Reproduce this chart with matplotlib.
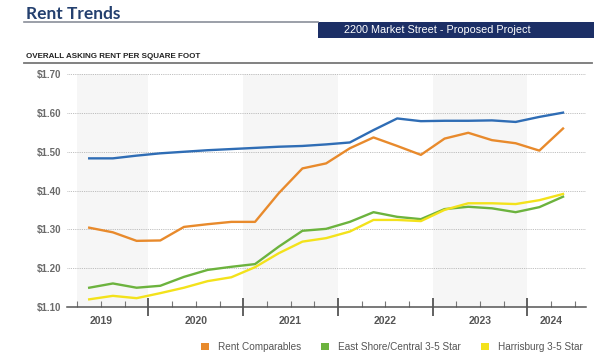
import numpy as np
import matplotlib
matplotlib.use("Agg")
import matplotlib.pyplot as plt
from matplotlib.patches import Patch, Rectangle
from matplotlib.lines import Line2D

plt.rcParams['font.family'] = ['Liberation Sans', 'DejaVu Sans']

# --------------------------
# Data (quarterly, Q2 2019 -> Q2 2024)
# --------------------------
quarters = ['2019Q2', '2019Q3', '2019Q4',
            '2020Q1', '2020Q2', '2020Q3', '2020Q4',
            '2021Q1', '2021Q2', '2021Q3', '2021Q4',
            '2022Q1', '2022Q2', '2022Q3', '2022Q4',
            '2023Q1', '2023Q2', '2023Q3', '2023Q4',
            '2024Q1', '2024Q2']

proposed = [1.483, 1.483, 1.490, 1.496, 1.500, 1.504, 1.507,
            1.510, 1.513, 1.515, 1.519, 1.524, 1.556, 1.586,
            1.579, 1.580, 1.580, 1.581, 1.577, 1.590, 1.601]
rent_comps = [1.304, 1.292, 1.270, 1.271, 1.306, 1.313, 1.319,
              1.319, 1.393, 1.457, 1.470, 1.509, 1.537, 1.515,
              1.492, 1.534, 1.549, 1.530, 1.522, 1.503, 1.560]
east_shore = [1.149, 1.160, 1.149, 1.154, 1.177, 1.195, 1.203,
              1.210, 1.255, 1.296, 1.301, 1.319, 1.344, 1.332,
              1.326, 1.352, 1.358, 1.354, 1.344, 1.357, 1.384]
harrisburg = [1.119, 1.128, 1.122, 1.135, 1.149, 1.166, 1.176,
              1.202, 1.238, 1.268, 1.277, 1.294, 1.324, 1.324,
              1.321, 1.350, 1.367, 1.367, 1.365, 1.375, 1.391]

years = ['2019', '2020', '2021', '2022', '2023', '2024']
yticks = [1.10, 1.20, 1.30, 1.40, 1.50, 1.60, 1.70]

# colours
c_blue = '#2f6db5'
c_orange = '#e88a2c'
c_green = '#6cb33e'
c_yellow = '#f3e21b'
c_navy = '#1c2f66'
c_grey_txt = '#6a6a6a'

# --------------------------
# Layout
# --------------------------
W, H = 598, 361
fig = plt.figure(figsize=(W / 100, H / 100), dpi=100)

def fx(px):
    return px / W

def fy(py):
    return 1 - py / H

# header
fig.text(fx(26), fy(19), 'Rent Trends', family=['Lato', 'DejaVu Sans'],
         fontsize=12.5, fontweight='bold', color='#24406f', va='baseline')
fig.add_artist(Line2D([fx(24), fx(318)], [fy(21.5), fy(21.5)],
                      color='#8a8f99', lw=1.2))
fig.add_artist(Rectangle((fx(318), fy(38)), fx(594) - fx(318), fy(22) - fy(38),
                         facecolor=c_navy, edgecolor='none'))
fig.text(fx(437), fy(30), '2200 Market Street - Proposed Project',
         fontsize=7.8, color='white', ha='center', va='center')
fig.text(fx(26), fy(58), 'OVERALL ASKING RENT PER SQUARE FOOT',
         fontsize=5.8, fontweight='bold', color='#222222', va='baseline')
fig.add_artist(Line2D([fx(24), fx(592)], [fy(62.5), fy(62.5)],
                      color='#777777', lw=1.3))

# --------------------------
# Chart
# --------------------------
ax = fig.add_axes([fx(66.7), fy(306.7), fx(586) - fx(66.7), fy(74.3) - fy(306.7)])

x = np.arange(len(quarters)) + 1.5  # quarter index, mid-quarter

# alternating year shading
for x0, x1 in [(1, 4), (8, 12), (16, 20)]:
    ax.axvspan(x0, x1, color='#f6f6f6', lw=0, zorder=0)

for yv in yticks[1:]:
    ax.axhline(yv, color='#aaaaaa', lw=0.6, ls=(0, (1, 1.2)), zorder=1)

ax.plot(x, proposed, color=c_blue, lw=1.7, zorder=3)
ax.plot(x, rent_comps, color=c_orange, lw=1.7, zorder=3)
ax.plot(x, east_shore, color=c_green, lw=1.7, zorder=3)
ax.plot(x, harrisburg, color=c_yellow, lw=1.7, zorder=4)

ax.set_xlim(0.55, 22.47)
ax.set_ylim(1.10, 1.70)

for s in ['top', 'right', 'left']:
    ax.spines[s].set_visible(False)
ax.spines['bottom'].set_color('#555555')
ax.spines['bottom'].set_linewidth(1.1)

ax.set_yticks(yticks)
ax.set_yticklabels([f'${v:.2f}' for v in yticks], fontsize=7, fontweight='bold',
                   color=c_grey_txt)
ax.tick_params(axis='y', length=0, pad=4)

ax.set_xticks([4, 8, 12, 16, 20])
ax.set_xticklabels([])
ax.set_xticks(np.arange(1, 23), minor=True)
ax.tick_params(axis='x', which='major', direction='inout', length=13,
               width=1.3, color='#555555')
ax.tick_params(axis='x', which='minor', direction='in', length=4,
               width=0.8, color='#777777')

year_centres = [2, 6, 10, 14, 18, 21]
for yr, xc in zip(years, year_centres):
    ax.text(xc, -0.063, yr, transform=ax.get_xaxis_transform(), ha='center',
            va='center', fontsize=7.5, fontweight='bold', color='#555555')

# legend
handles = [Patch(facecolor=c_orange, edgecolor='none'),
           Patch(facecolor=c_green, edgecolor='none'),
           Patch(facecolor=c_yellow, edgecolor='none')]
labels = ['Rent Comparables', 'East Shore/Central 3-5 Star', 'Harrisburg 3-5 Star']
fig.legend(handles, labels, ncol=3, loc='center', bbox_to_anchor=(fx(392), fy(347)),
           frameon=False, fontsize=7.2, handlelength=0.8, handleheight=0.8,
           handletextpad=0.9, columnspacing=2.0, labelcolor='#555555')

fig.savefig('out.png', dpi=100)
